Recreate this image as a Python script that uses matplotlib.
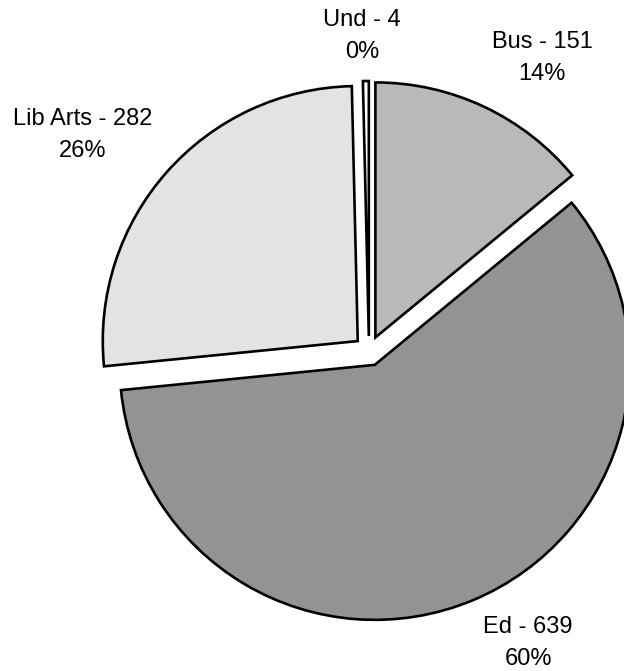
import matplotlib
matplotlib.use("Agg")
import matplotlib.pyplot as plt

categories = ["Bus", "Ed", "Lib Arts", "Und"]
values = [151, 639, 282, 4]
pct_labels = ["14%", "60%", "26%", "0%"]
colors = ["#b9b9b9", "#939393", "#e3e3e3", "#ffffff"]
label_pos = [(542, 613), (528, 28), (83, 536), (362, 635)]

plt.rcParams['font.family'] = ['Liberation Sans', 'DejaVu Sans']

fig = plt.figure(figsize=(6.24, 6.71), dpi=100)
ax = fig.add_axes([0, 0, 1, 1])

radius = 255
wedges, _ = ax.pie(values, colors=colors, startangle=90, counterclock=False,
                   radius=radius, center=(369, 320), explode=[15] * len(values),
                   wedgeprops=dict(edgecolor='black', linewidth=1.9), frame=True)
ax.set_xlim(0, 624)
ax.set_ylim(0, 671)
ax.set_aspect('equal')
ax.axis('off')

for cat, v, pct, (x, y) in zip(categories, values, pct_labels, label_pos):
    ax.text(x, y, f"{cat} - {v}\n{pct}", ha='center', va='center',
            fontsize=17, linespacing=1.6)

fig.savefig("out.png", dpi=100)
